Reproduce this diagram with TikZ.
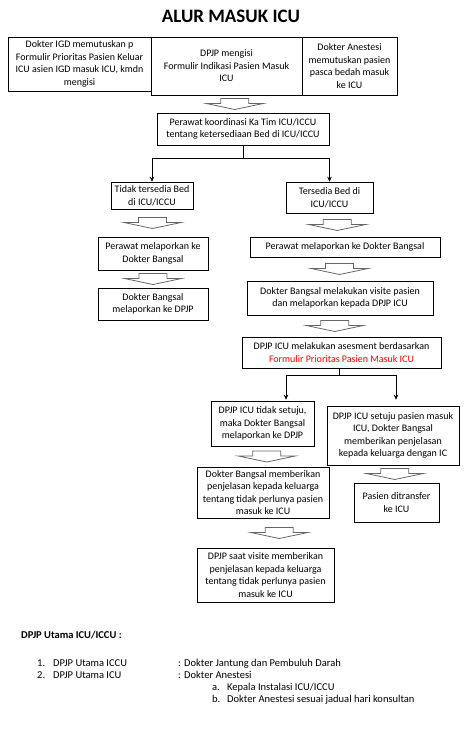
\documentclass[tikz,border=0pt]{standalone}
\usepackage{fontspec}
\setmainfont{Carlito}
\usetikzlibrary{calc,arrows.meta}

% panah blok abu-abu di antara dua kotak
\newcommand{\panahblok}[3][0]{%
  \path ($(#2.south)!0.5!(#3.north)$) ++(#1,0) coordinate (pb);
  \draw[panah] ($(pb)+(-14,-5.5)$) -- ($(pb)+(14,-5.5)$) -- ($(pb)+(14,-0.5)$)
    -- ($(pb)+(28.5,-0.5)$) -- ($(pb)+(0,5.5)$) -- ($(pb)+(-28.5,-0.5)$)
    -- ($(pb)+(-14,-0.5)$) -- cycle;}

\begin{document}
\begin{tikzpicture}[x=1pt, y=-1pt,
    kotak/.style={draw, line width=0.6pt, align=center, inner sep=1pt,
      font=\fontsize{10}{12.5}\selectfont},
    panah/.style={draw=gray!80!black, line width=0.8pt},
    garis/.style={line width=0.6pt},
    tip/.style={garis, -{Stealth[length=5pt, width=4.5pt]}},
    catatan/.style={anchor=base west, inner sep=0pt, font=\fontsize{10.5}{12}\selectfont}]
    \useasboundingbox (0,0) rectangle (471,733);

    % Judul
    \node[font=\fontsize{19}{22}\selectfont\bfseries] (judul) at (231,16.5) {ALUR MASUK ICU};

    % Baris atas
    \node[kotak, minimum width=143pt, minimum height=54pt] (igd) at (79.5,64)
      {Dokter IGD memutuskan p\\Formulir Prioritas Pasien Keluar\\ICU asien IGD masuk ICU, kmdn\\mengisi};
    \node[kotak, minimum width=151pt, minimum height=58pt] (dpjp) at (226.5,66)
      {DPJP mengisi\\Formulir Indikasi Pasien Masuk\\ICU};
    \node[kotak, minimum width=95pt, minimum height=58pt] (anes) at (349.5,66)
      {Dokter Anestesi\\memutuskan pasien\\pasca bedah masuk\\ke ICU};

    % Koordinasi bed
    \node[kotak, minimum width=172pt, minimum height=32pt] (koord) at (243,129)
      {Perawat koordinasi Ka Tim ICU/ICCU\\tentang ketersediaan Bed di ICU/ICCU};
    \node[kotak, minimum width=82pt, minimum height=27pt] (tidak) at (152,195.5)
      {Tidak tersedia Bed\\di ICU/ICCU};
    \node[kotak, minimum width=87pt, minimum height=31pt] (sedia) at (329.5,197.5)
      {Tersedia Bed di\\ICU/ICCU};

    % Kolom kiri
    \node[kotak, minimum width=110pt, minimum height=33pt] (lapor1) at (153,253.5)
      {Perawat melaporkan ke\\Dokter Bangsal};
    \node[kotak, minimum width=110pt, minimum height=32pt] (lapor2) at (153,304)
      {Dokter Bangsal\\melaporkan ke DPJP};

    % Kolom kanan
    \node[kotak, minimum width=190pt, minimum height=20pt] (lapor3) at (345,247)
      {Perawat melaporkan ke Dokter Bangsal};
    \node[kotak, minimum width=186pt, minimum height=34pt] (visite) at (340,298)
      {Dokter Bangsal melakukan visite pasien\\dan melaporkan kepada DPJP ICU};
    \node[kotak, minimum width=199pt, minimum height=31pt] (asesmen) at (341.5,352.5)
      {DPJP ICU melakukan asesment berdasarkan\\\textcolor{red}{Formulir Prioritas Pasien Masuk ICU}};

    % Hasil asesmen
    \node[kotak, minimum width=103pt, minimum height=45pt] (tolak) at (262.5,423.5)
      {DPJP ICU tidak setuju,\\maka Dokter Bangsal\\melaporkan ke DPJP};
    \node[kotak, minimum width=132pt, minimum height=59pt] (setuju) at (393,435.5)
      {DPJP ICU setuju pasien masuk\\ICU, Dokter Bangsal\\memberikan penjelasan\\kepada keluarga dengan IC};
    \node[kotak, minimum width=132pt, minimum height=51pt] (jelas) at (263,492.5)
      {Dokter Bangsal memberikan\\penjelasan kepada keluarga\\tentang tidak perlunya pasien\\masuk ke ICU};
    \node[kotak, minimum width=137pt, minimum height=54pt] (visite2) at (265.5,575)
      {DPJP saat visite memberikan\\penjelasan kepada keluarga\\tentang tidak perlunya pasien\\masuk ke ICU};
    \node[kotak, minimum width=85pt, minimum height=39pt] (transfer) at (396.5,502.5)
      {Pasien ditransfer\\ke ICU};

    % Panah blok
    \panahblok{dpjp}{koord}
    \panahblok{tidak}{lapor1}
    \panahblok{lapor1}{lapor2}
    \panahblok{sedia}{lapor3}
    \panahblok[-3]{lapor3}{visite}
    \panahblok[-6]{visite}{asesmen}
    \panahblok[4]{tolak}{jelas}
    \panahblok[15]{jelas}{visite2}
    \panahblok{setuju}{transfer}

    % Percabangan
    \draw[garis] (koord.south) -- ++(0,13) coordinate (cabang1);
    \draw[tip] (cabang1) -| (tidak.north);
    \draw[tip] (cabang1) -| (sedia.north);
    \draw[garis] ([xshift=-2.5pt]asesmen.south) -- ++(0,7) coordinate (cabang2);
    \draw[tip] (cabang2) -| ([xshift=23.5pt, yshift=1pt]tolak.north);
    \draw[tip] (cabang2) -| ([xshift=3pt, yshift=6pt]setuju.north);

    % Keterangan DPJP utama
    \node[catatan, font=\fontsize{10.5}{12}\selectfont\bfseries] (ket) at (21,638) {DPJP Utama ICU/ICCU :};
    \node[catatan] (no1) at (37,666) {1.};
    \node[catatan] (ket1) at (53,666) {DPJP Utama ICCU};
    \node[catatan] (isi1) at (178,666) {: Dokter Jantung dan Pembuluh Darah};
    \node[catatan] (no2) at (37,678) {2.};
    \node[catatan] (ket2) at (53,678) {DPJP Utama ICU};
    \node[catatan] (isi2) at (178,678) {: Dokter Anestesi};
    \node[catatan] (hra) at (212,690) {a.};
    \node[catatan] (isia) at (227,690) {Kepala Instalasi ICU/ICCU};
    \node[catatan] (hrb) at (212,702) {b.};
    \node[catatan] (isib) at (227,702) {Dokter Anestesi sesuai jadual hari konsultan};
\end{tikzpicture}
\end{document}
